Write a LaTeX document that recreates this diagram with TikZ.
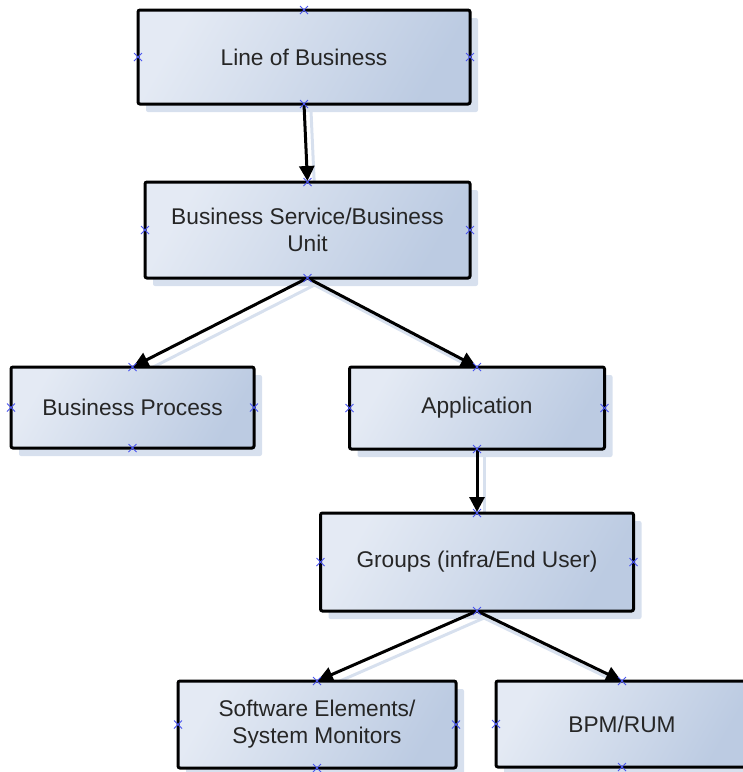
\documentclass[tikz,border=0pt]{standalone}
\usepackage{fontspec}
\setmainfont{Liberation Sans}
\usetikzlibrary{arrows.meta,shadows,shapes.misc,backgrounds}
\definecolor{boxlight}{HTML}{E4EAF4}
\definecolor{boxdark}{HTML}{BCCBE2}
\definecolor{shadowblue}{HTML}{D7E0EE}
\definecolor{textgray}{HTML}{262626}
\definecolor{markblue}{HTML}{4A55F0}
\tikzset{
  box/.style={draw=black,line width=3pt,rounded corners=2pt,align=center,outer sep=0pt,
    top color=boxlight,bottom color=boxdark,shading angle=60,
    drop shadow={shadow xshift=8pt,shadow yshift=-8pt,fill=shadowblue,opacity=1},
    text=textgray,font=\fontsize{22.7}{27}\selectfont},
  arrow/.style={-{Triangle[length=15pt,width=15pt]},draw=black,line width=3pt,
    shorten >=1pt,shorten <=1pt},
  arrowshade/.style={draw=shadowblue,line width=3pt,
    transform canvas={xshift=7pt,yshift=-7pt}},
  xmark/.style={cross out,draw=markblue,line width=1pt,minimum size=7pt,inner sep=0pt}
}
\begin{document}
\begin{tikzpicture}[x=1pt,y=-1pt]
  \useasboundingbox (0,0) rectangle (743,772);
  % boxes
  \node[box,minimum width=332pt,minimum height=94pt] (lob) at (304,57) {Line of Business};
  \node[box,minimum width=325pt,minimum height=96pt] (bs) at (307.5,230) {Business Service/Business\\Unit};
  \node[box,minimum width=243pt,minimum height=81pt] (bp) at (132.5,407.5) {Business Process};
  \node[box,minimum width=255pt,minimum height=82pt] (app) at (477,408) {Application};
  \node[box,minimum width=313pt,minimum height=98pt] (grp) at (477,562) {Groups (infra/End User)};
  \node[box,minimum width=278pt,minimum height=87pt] (swe) at (317,724.5) {Software Elements/\\System Monitors};
  \node[box,minimum width=252pt,minimum height=86pt] (bpm) at (622,724) {BPM/RUM};
  % connectors
  \begin{scope}[on background layer]
    \draw[arrowshade] (lob.south) -- (bs.north);
    \draw[arrowshade] (bs.south) -- (bp.north);
    \draw[arrowshade] (bs.south) -- (app.north);
    \draw[arrowshade] (app.south) -- (grp.north);
    \draw[arrowshade] (grp.south) -- (swe.north);
    \draw[arrowshade] (grp.south) -- (bpm.north);
  \end{scope}
  \draw[arrow] (lob.south) -- (bs.north);
  \draw[arrow] (bs.south) -- (bp.north);
  \draw[arrow] (bs.south) -- (app.north);
  \draw[arrow] (app.south) -- (grp.north);
  \draw[arrow] (grp.south) -- (swe.north);
  \draw[arrow] (grp.south) -- (bpm.north);
  % connection points
  \foreach \n in {lob,bs,bp,app,grp,swe,bpm}
    \foreach \a in {north,south,east,west}
      \node[xmark] at (\n.\a) {};
\end{tikzpicture}
\end{document}
